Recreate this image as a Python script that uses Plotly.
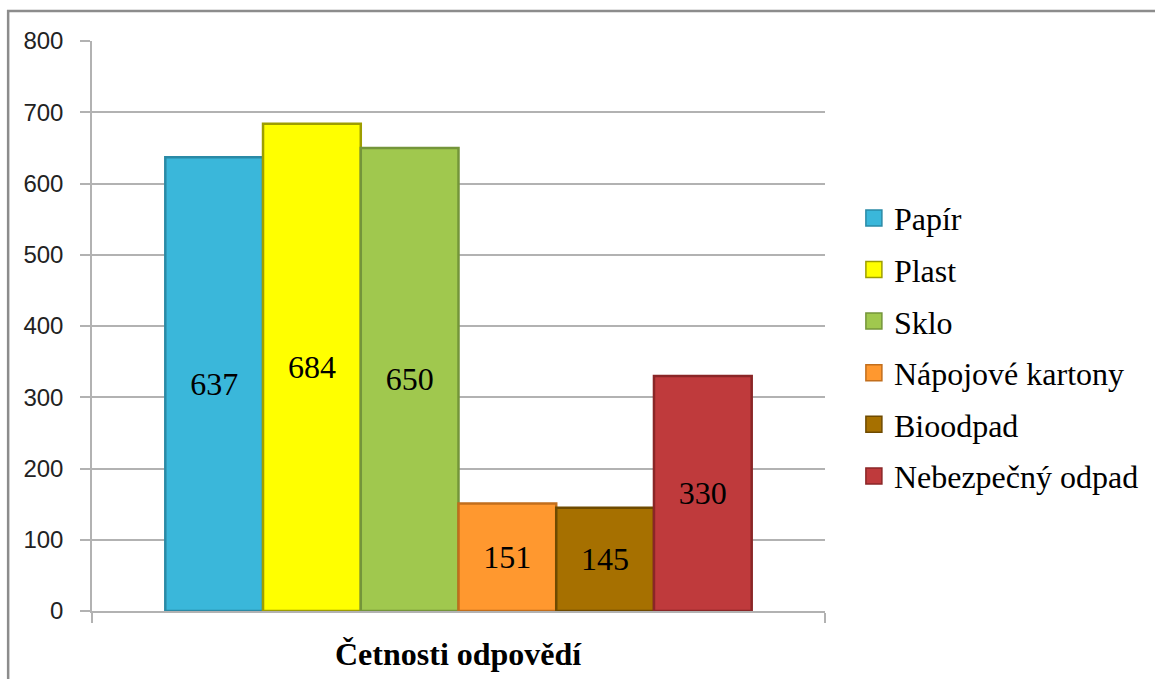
import plotly.graph_objects as go

# Survey answer counts per waste category
category = ["Četnosti odpovědí"]
series_names = ["Papír", "Plast", "Sklo", "Nápojové kartony", "Bioodpad", "Nebezpečný odpad"]
series_values = [637, 684, 650, 151, 145, 330]
y_ticks = [0, 100, 200, 300, 400, 500, 600, 700, 800]

fill_colors = ["#3AB7DA", "#FFFF00", "#A0C84E", "#FF982F", "#A67000", "#BF3A3C"]
edge_colors = ["#2A8AA6", "#9E9E00", "#74953A", "#C26E1C", "#6E4A00", "#8A2627"]

serif = "Liberation Serif"
sans = "Liberation Sans"
grid = "#b2b2b2"

fig = go.Figure()
for name, val, fc, ec in zip(series_names, series_values, fill_colors, edge_colors):
    fig.add_trace(go.Bar(
        name=name,
        x=category,
        y=[val],
        showlegend=False,
        marker=dict(color=fc, line=dict(color=ec, width=2.5)),
        texttemplate="%{y}",
        textposition="inside",
        insidetextanchor="middle",
        textangle=0,
        textfont=dict(family=serif, size=32, color="#000000"),
        hoverinfo="skip",
    ))

# Legend keys: larger square swatches than the default bar symbol
for name, fc, ec in zip(series_names, fill_colors, edge_colors):
    fig.add_trace(go.Scatter(
        name=name,
        x=[None], y=[None],
        mode="markers",
        legendgroup=name,
        marker=dict(symbol="square", size=16, color=fc, line=dict(color=ec, width=1.5)),
        hoverinfo="skip",
    ))

fig.update_layout(
    width=1155,
    height=679,
    margin=dict(l=92, r=329, t=41, b=68),
    paper_bgcolor="white",
    plot_bgcolor="white",
    barmode="group",
    bargap=0.2,
    bargroupgap=0,
    showlegend=True,
    legend=dict(
        x=1.038, xanchor="left",
        y=0.463, yanchor="middle",
        font=dict(family=serif, size=32, color="#000000"),
        tracegroupgap=7,
        itemwidth=30,
        itemsizing="trace",
        bgcolor="rgba(0,0,0,0)",
    ),
    xaxis=dict(
        showline=True, linecolor=grid, linewidth=1.5,
        ticks="outside", ticklen=10, tickcolor=grid, tickwidth=1.5,
        tickson="boundaries",
        showticklabels=False,
        showgrid=False,
        zeroline=False,
    ),
    yaxis=dict(
        range=[0, 800],
        tickvals=y_ticks,
        showline=True, linecolor=grid, linewidth=1.5,
        ticks="outside", ticklen=10, tickcolor=grid, tickwidth=1.5,
        showgrid=True, gridcolor=grid, gridwidth=1.5,
        zeroline=False,
        tickfont=dict(family=sans, size=24, color="#222222"),
        ticklabelstandoff=12,
    ),
    annotations=[dict(
        text="<b>Četnosti odpovědí</b>",
        xref="paper", yref="paper", x=0.5, y=-0.075,
        xanchor="center", yanchor="middle", showarrow=False,
        font=dict(family=serif, size=32, color="#000000"),
    )],
    shapes=[dict(
        type="rect", xref="paper", yref="paper",
        x0=-0.1144, x1=1.6, y0=-0.3, y1=1.0526,
        line=dict(color="#8c8c8c", width=2.5),
        fillcolor="rgba(0,0,0,0)",
        layer="below",
    )],
)

fig.write_html("out.html")
